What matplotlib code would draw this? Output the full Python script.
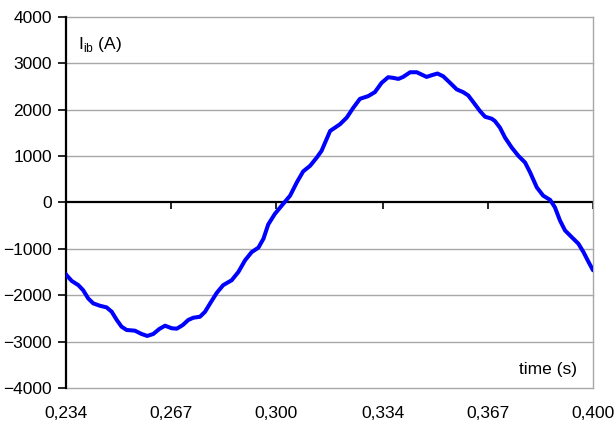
import matplotlib
matplotlib.use("Agg")
import matplotlib.pyplot as plt
from matplotlib.ticker import FixedLocator, FuncFormatter

# sampled branch current Iib over one cycle
time_s = [
    0.2340, 0.2342, 0.2358, 0.2379, 0.2394, 0.2410, 0.2426, 0.2447, 0.2468,
    0.2484, 0.2500, 0.2515, 0.2531, 0.2557, 0.2578, 0.2596, 0.2615, 0.2634,
    0.2652, 0.2673, 0.2689, 0.2708, 0.2725, 0.2741, 0.2762, 0.2778, 0.2794,
    0.2815, 0.2835, 0.2862, 0.2883, 0.2904, 0.2925, 0.2946, 0.2962, 0.2977,
    0.2998, 0.3024, 0.3046, 0.3067, 0.3087, 0.3109, 0.3130, 0.3145, 0.3172,
    0.3203, 0.3224, 0.3245, 0.3266, 0.3292, 0.3313, 0.3334, 0.3355, 0.3371,
    0.3387, 0.3402, 0.3424, 0.3445, 0.3460, 0.3476, 0.3492, 0.3510, 0.3528,
    0.3550, 0.3571, 0.3591, 0.3607, 0.3623, 0.3644, 0.3660, 0.3681, 0.3691,
    0.3707, 0.3723, 0.3744, 0.3765, 0.3786, 0.3802, 0.3823, 0.3843, 0.3865,
    0.3880, 0.3896, 0.3912, 0.3933, 0.3954, 0.3970, 0.3986, 0.4000,
]
current_a = [
    -1545, -1569, -1691, -1783, -1891, -2069, -2176, -2227, -2262,
    -2356, -2534, -2678, -2749, -2764, -2835, -2878, -2835, -2727,
    -2657, -2712, -2721, -2642, -2534, -2485, -2464, -2356, -2176,
    -1948, -1783, -1676, -1498, -1247, -1069, -974, -781, -474,
    -245, -30, 148, 433, 670, 792, 970, 1114, 1543,
    1687, 1828, 2043, 2236, 2294, 2380, 2579, 2702, 2687,
    2665, 2708, 2809, 2809, 2760, 2708, 2745, 2781, 2723,
    2579, 2438, 2380, 2309, 2165, 1972, 1850, 1807, 1757,
    1614, 1399, 1185, 1006, 863, 648, 326, 148, 56,
    -103, -388, -603, -747, -888, -1069, -1283, -1461,
]

x_ticks = [0.234, 0.267, 0.300, 0.334, 0.367, 0.400]
y_ticks = [-4000, -3000, -2000, -1000, 0, 1000, 2000, 3000, 4000]

plt.rcParams["font.family"] = ["Liberation Sans", "DejaVu Sans"]

fig = plt.figure(figsize=(6.15, 4.22), dpi=100)
ax = fig.add_axes([0.1073, 0.0806, 0.8569, 0.8791])

ax.set_xlim(0.234, 0.400)
ax.set_ylim(-4000, 4000)

grid_col = "#a8a8a8"
for yv in y_ticks:
    if yv != 0:
        ax.axhline(yv, color=grid_col, lw=1.0, zorder=1, clip_on=False)
ax.axhline(0, color="black", lw=1.6, zorder=2)

ax.plot(time_s, current_a, color="#0000ff", lw=2.9,
        solid_joinstyle="round", solid_capstyle="round", zorder=3)

for side in ("top", "bottom"):
    ax.spines[side].set_visible(False)
ax.spines["right"].set_color(grid_col)
ax.spines["right"].set_linewidth(1.0)
ax.spines["left"].set_color("black")
ax.spines["left"].set_linewidth(1.6)

ax.yaxis.set_major_locator(FixedLocator(y_ticks))
ax.tick_params(axis="y", direction="out", length=6, width=1.2,
               labelsize=12.5, pad=4, colors="black")

# tick labels sit below the plot, tick marks sit on the zero line
ax.xaxis.set_major_locator(FixedLocator(x_ticks))
ax.xaxis.set_major_formatter(FuncFormatter(lambda v, p: f"{v:.3f}".replace(".", ",")))
ax.tick_params(axis="x", length=0, labelsize=12.5, pad=13)

zero_ax = ax.secondary_xaxis(0.5)
zero_ax.set_xticks(x_ticks)
zero_ax.tick_params(axis="x", which="both", direction="in", length=5, width=1.2,
                    top=True, bottom=False, labeltop=False, labelbottom=False)
for sp in zero_ax.spines.values():
    sp.set_visible(False)

ax.text(0.023, 0.925, r"I$_{\mathregular{ib}}$ (A)", transform=ax.transAxes,
        fontsize=12.5, ha="left", va="center")
ax.text(0.970, 0.051, "time (s)", transform=ax.transAxes,
        fontsize=12.5, ha="right", va="center")

fig.savefig("out.png", dpi=100)
